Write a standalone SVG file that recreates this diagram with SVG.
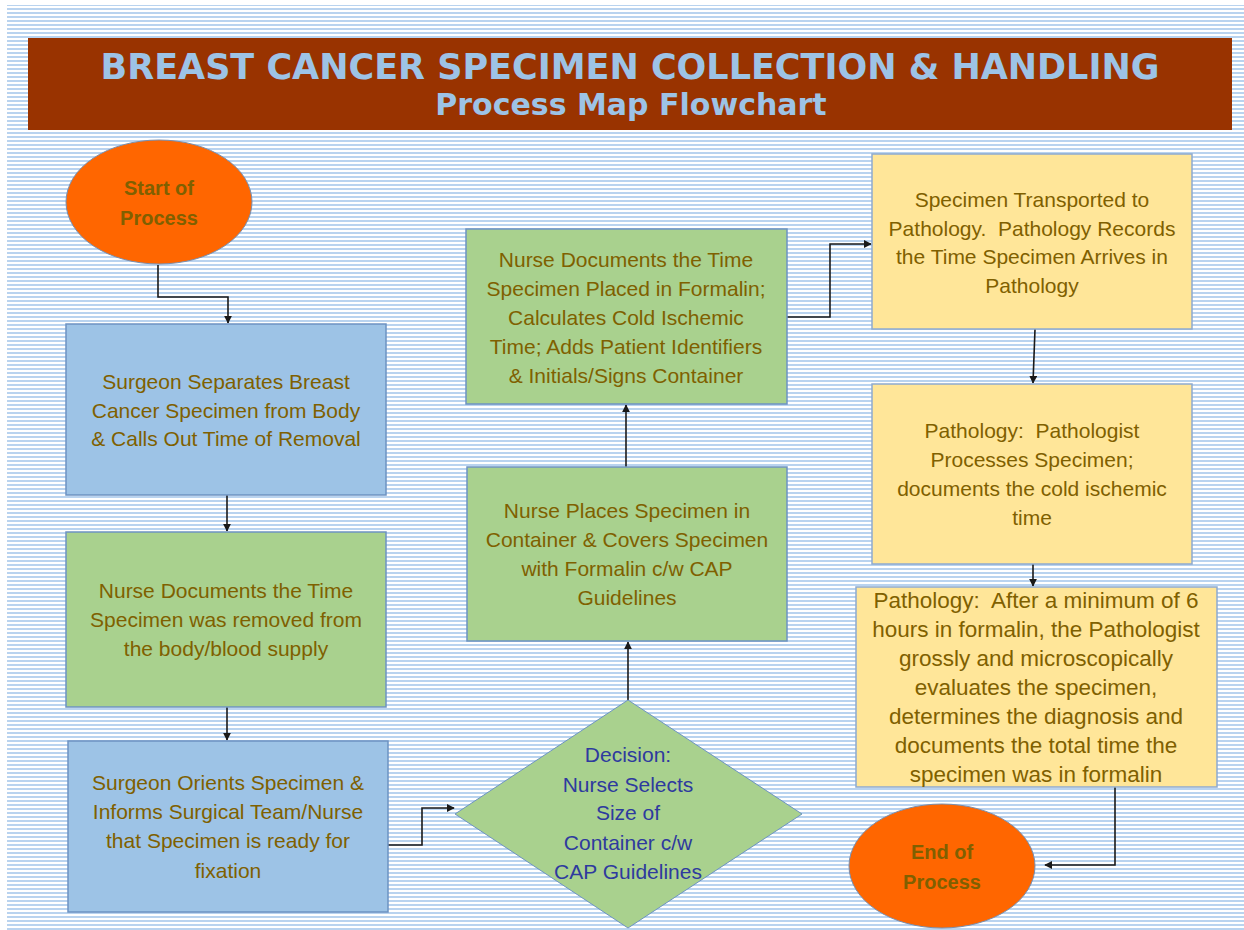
<svg xmlns="http://www.w3.org/2000/svg" width="1244" height="930" viewBox="0 0 1244 930">
<defs>
  <pattern id="stripes" x="0" y="0" width="8" height="4" patternUnits="userSpaceOnUse">
    <rect x="0" y="0" width="8" height="4" fill="#ffffff"/>
    <rect x="0" y="0" width="8" height="2" fill="#b9d3ef"/>
  </pattern>
  <marker id="arr" viewBox="0 0 10 10" refX="9" refY="5" markerWidth="5" markerHeight="5" orient="auto">
    <path d="M0,0 L10,5 L0,10 z" fill="#1a1a1a"/>
  </marker>
</defs>
<style>
  .t{font-family:"Liberation Sans",Arial,sans-serif;font-size:21px;fill:#7f6000;text-anchor:middle;white-space:pre}
  .big{font-size:22.5px}
  .term{font-family:"Liberation Sans",Arial,sans-serif;font-size:20px;font-weight:bold;fill:#7f6000;text-anchor:middle}
  .dec{font-family:"Liberation Sans",Arial,sans-serif;font-size:21px;fill:#2e3a9e;text-anchor:middle}
  .blue{fill:#9dc3e6;stroke:#6d93c2;stroke-width:1.5}
  .green{fill:#a9d18e;stroke:#6d93c2;stroke-width:1.5}
  .yellow{fill:#ffe699;stroke:#8eaad0;stroke-width:1.5}
  .oval{fill:#ff6600;stroke:#7a8fae;stroke-width:1}
  .c{fill:none;stroke:#1a1a1a;stroke-width:1.6;marker-end:url(#arr)}
  .title{font-family:"DejaVu Sans",Verdana,sans-serif;font-weight:bold;fill:#9dc3e6;text-anchor:middle}
</style>
<rect x="0" y="0" width="1244" height="930" fill="#ffffff"/>
<rect x="7" y="5" width="1237" height="925" fill="url(#stripes)"/>

<g id="title">
  <rect x="28" y="38" width="1204" height="92" fill="#993300"/>
  <text class="title" x="630" y="79" font-size="35">BREAST CANCER SPECIMEN COLLECTION &amp; HANDLING</text>
  <text class="title" x="631" y="115" font-size="30">Process Map Flowchart</text>
</g>

<g id="connectors">
  <path class="c" d="M158,265 V297 H228 V323"/>
  <path class="c" d="M227,495 V531"/>
  <path class="c" d="M227,707 V740"/>
  <path class="c" d="M388,845 H422 V808 H454"/>
  <path class="c" d="M628,700 V642"/>
  <path class="c" d="M626,467 V405"/>
  <path class="c" d="M787,317 H830 V244 H871"/>
  <path class="c" d="M1035,329 L1033,383"/>
  <path class="c" d="M1033,564 V586"/>
  <path class="c" d="M1115,787 V865 H1045"/>
</g>

<g id="start">
  <ellipse class="oval" cx="159" cy="202" rx="93" ry="62"/>
  <text class="term" x="159" y="195">Start of</text>
  <text class="term" x="159" y="225">Process</text>
</g>

<g id="surgeon-separates">
  <rect class="blue" x="66" y="324" width="320" height="171"/>
  <text class="t" x="226" y="389">Surgeon Separates Breast</text>
  <text class="t" x="226" y="418">Cancer Specimen from Body</text>
  <text class="t" x="226" y="446">&amp; Calls Out Time of Removal</text>
</g>

<g id="nurse-documents-removal">
  <rect class="green" x="66" y="532" width="320" height="175"/>
  <text class="t" x="226" y="598">Nurse Documents the Time</text>
  <text class="t" x="226" y="627">Specimen was removed from</text>
  <text class="t" x="226" y="656">the body/blood supply</text>
</g>

<g id="surgeon-orients">
  <rect class="blue" x="68" y="741" width="320" height="171"/>
  <text class="t" x="228" y="790">Surgeon Orients Specimen &amp;</text>
  <text class="t" x="228" y="819">Informs Surgical Team/Nurse</text>
  <text class="t" x="228" y="848">that Specimen is ready for</text>
  <text class="t" x="228" y="878">fixation</text>
</g>

<g id="decision">
  <polygon points="628,700 802,814 628,928 455,814" fill="#a9d18e" stroke="#6d93c2" stroke-width="1"/>
  <text class="dec" x="628" y="762">Decision:</text>
  <text class="dec" x="628" y="792">Nurse Selects</text>
  <text class="dec" x="628" y="820">Size of</text>
  <text class="dec" x="628" y="850">Container c/w</text>
  <text class="dec" x="628" y="879">CAP Guidelines</text>
</g>

<g id="nurse-places">
  <rect class="green" x="467" y="467" width="320" height="174"/>
  <text class="t" x="627" y="518">Nurse Places Specimen in</text>
  <text class="t" x="627" y="547">Container &amp; Covers Specimen</text>
  <text class="t" x="627" y="576">with Formalin c/w CAP</text>
  <text class="t" x="627" y="605">Guidelines</text>
</g>

<g id="nurse-documents-formalin">
  <rect class="green" x="466" y="229" width="321" height="175"/>
  <text class="t" x="626" y="267">Nurse Documents the Time</text>
  <text class="t" x="626" y="296">Specimen Placed in Formalin;</text>
  <text class="t" x="626" y="325">Calculates Cold Ischemic</text>
  <text class="t" x="626" y="354">Time; Adds Patient Identifiers</text>
  <text class="t" x="626" y="383">&amp; Initials/Signs Container</text>
</g>

<g id="transported">
  <rect class="yellow" x="872" y="154" width="320" height="175"/>
  <text class="t" x="1032" y="207">Specimen Transported to</text>
  <text class="t" x="1032" y="236">Pathology.  Pathology Records</text>
  <text class="t" x="1032" y="264">the Time Specimen Arrives in</text>
  <text class="t" x="1032" y="293">Pathology</text>
</g>

<g id="pathologist-processes">
  <rect class="yellow" x="872" y="384" width="320" height="180"/>
  <text class="t" x="1032" y="438">Pathology:  Pathologist</text>
  <text class="t" x="1032" y="467">Processes Specimen;</text>
  <text class="t" x="1032" y="496">documents the cold ischemic</text>
  <text class="t" x="1032" y="525">time</text>
</g>

<g id="pathologist-evaluates">
  <rect class="yellow" x="856" y="587" width="361" height="200"/>
  <text class="t big" x="1036" y="608">Pathology:  After a minimum of 6</text>
  <text class="t big" x="1036" y="637">hours in formalin, the Pathologist</text>
  <text class="t big" x="1036" y="666">grossly and microscopically</text>
  <text class="t big" x="1036" y="695">evaluates the specimen,</text>
  <text class="t big" x="1036" y="724">determines the diagnosis and</text>
  <text class="t big" x="1036" y="753">documents the total time the</text>
  <text class="t big" x="1036" y="782">specimen was in formalin</text>
</g>

<g id="end">
  <ellipse class="oval" cx="942" cy="866" rx="93" ry="62"/>
  <text class="term" x="942" y="859">End of</text>
  <text class="term" x="942" y="889">Process</text>
</g>
</svg>
